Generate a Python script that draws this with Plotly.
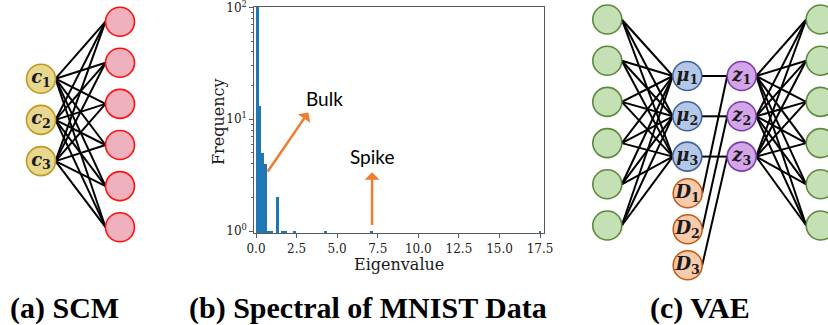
import math
import plotly.graph_objects as go

# ---------------- Histogram data (panel b) ----------------
BIN_W = 0.176                      # eigenvalue bin width
bin_index = [0, 1, 2, 3, 4, 5, 7, 9, 10, 13, 24, 40, 99]
bin_count = [100, 13, 5, 4, 1, 1, 2, 1, 1, 1, 1, 1, 1]
x_tick_vals = [0, 2.5, 5, 7.5, 10, 12.5, 15, 17.5]
x_tick_text = ["0.0", "2.5", "5.0", "7.5", "10.0", "12.5", "15.0", "17.5"]
y_tick_vals = [1, 10, 100]
y_tick_text = ["10<sup>0</sup>", "10<sup>1</sup>", "10<sup>2</sup>"]
y_minor_vals = [2, 3, 4, 5, 6, 7, 8, 9, 20, 30, 40, 50, 60, 70, 80, 90]

# ---------------- Diagram content ----------------
scm_cause = ["c", "c", "c"]
scm_obs_count = 6
vae_in_count = 6
vae_mu = ["μ", "μ", "μ"]
vae_d = ["D", "D", "D"]
vae_z = ["z", "z", "z"]
vae_out_count = 6
captions = ["(a) SCM", "(b) Spectral of MNIST Data", "(c) VAE"]

W, H = 828, 325
R = 14.5          # node radius (px)
NODE = 29         # marker diameter

def column(x, top, step, n):
    return [x] * n, [top + i * step for i in range(n)]

def lbl(letters):
    return ["<b><i>%s</i><sub>%d</sub></b>" % (s, i + 1) for i, s in enumerate(letters)]

# layout of columns
ca_x, ca_y = column(41, 78.7, 41.2, len(scm_cause))
ob_x, ob_y = column(120, 21.7, 41.1, scm_obs_count)
in_x, in_y = column(607.3, 19.5, 41.2, vae_in_count)
mu_x, mu_y = column(687.3, 76, 40.3, len(vae_mu))
d_x, d_y = column(687.7, 193.3, 36, len(vae_d))
z_x, z_y = column(741.7, 76, 40.3, len(vae_z))
out_x, out_y = column(820.7, 19.5, 41.2, vae_out_count)

ex, ey = [], []
def full(ax_, ay_, bx_, by_):
    for i in range(len(ax_)):
        for j in range(len(bx_)):
            ex.extend([ax_[i] + R, bx_[j] - R, None])
            ey.extend([ay_[i], by_[j], None])

full(ca_x, ca_y, ob_x, ob_y)
full(in_x, in_y, mu_x, mu_y)
full(z_x, z_y, out_x, out_y)
for i in range(len(vae_mu)):
    ex.extend([mu_x[i] + R, z_x[i] - R, None]); ey.extend([mu_y[i], z_y[i], None])
    ex.extend([d_x[i] + R, z_x[i] - R, None]); ey.extend([d_y[i], z_y[i], None])

fig = go.Figure()

# histogram
fig.add_trace(go.Bar(
    x=[(k + 0.5) * BIN_W for k in bin_index], y=bin_count, width=BIN_W,
    marker=dict(color="#1f77b4", line=dict(width=0)),
    xaxis="x", yaxis="y", showlegend=False))

# diagram edges
fig.add_trace(go.Scatter(x=ex, y=ey, mode="lines",
                         line=dict(color="black", width=2),
                         xaxis="x2", yaxis="y2", showlegend=False, hoverinfo="skip"))

def nodes(xs, ys, fill, edge, text=None):
    fig.add_trace(go.Scatter(
        x=xs, y=ys, mode="markers+text" if text else "markers",
        text=text, textposition="middle center",
        textfont=dict(family="DejaVu Serif", size=18, color="#1a1a1a"),
        marker=dict(size=NODE, color=fill, line=dict(color=edge, width=1.6)),
        xaxis="x2", yaxis="y2", showlegend=False, hoverinfo="skip"))

nodes(ca_x, ca_y, "#E8D88F", "#BF9A1F", lbl(scm_cause))
nodes(ob_x, ob_y, "#EFB1BD", "#FF1010")
nodes(in_x, in_y, "#C6E0B5", "#5B8A3C")
nodes(mu_x, mu_y, "#B4C7E7", "#3F64A0", lbl(vae_mu))
nodes(d_x, d_y, "#F8CBAD", "#C55A11", lbl(vae_d))
nodes(z_x, z_y, "#D4A5E8", "#7A3EA8", lbl(vae_z))
nodes(out_x, out_y, "#C6E0B5", "#5B8A3C")

axcol = "#5a5a5a"
serif = "DejaVu Serif, serif"
fig.update_layout(
    template="none",
    width=W, height=H, margin=dict(l=0, r=0, t=0, b=0, pad=0, autoexpand=False),
    paper_bgcolor="white", plot_bgcolor="rgba(0,0,0,0)",
    bargap=0,
    xaxis=dict(domain=[254.3 / W, 544.3 / W], range=[-0.105, 17.76], automargin=False,
               showline=True, mirror=True, linecolor=axcol, linewidth=1,
               ticks="outside", ticklen=4, tickcolor=axcol, ticklabeloverflow="allow",
               tickmode="array", tickvals=x_tick_vals, ticktext=x_tick_text,
               tickfont=dict(family=serif, size=12, color="#222"),
               showgrid=False, zeroline=False),
    yaxis=dict(type="log", domain=[1 - 233.3 / H, 1 - 7 / H], range=[-0.02, 2.003],
               automargin=False, ticklabeloverflow="allow",
               showline=True, mirror=True, linecolor=axcol, linewidth=1,
               ticks="outside", ticklen=4, tickcolor=axcol,
               tickmode="array", tickvals=y_tick_vals, ticktext=y_tick_text,
               tickfont=dict(family=serif, size=12, color="#222"),
               minor=dict(ticks="outside", ticklen=2, tickcolor=axcol,
                          tickmode="array", tickvals=y_minor_vals),
               showgrid=False, zeroline=False),
    xaxis2=dict(domain=[0, 1], range=[0, W], visible=False, fixedrange=True, automargin=False),
    yaxis2=dict(domain=[0, 1], range=[H, 0], visible=False, fixedrange=True, automargin=False),
)

ann = []
# axis titles
ann.append(dict(text="Eigenvalue", x=399, y=264, xref="x2", yref="y2", showarrow=False,
                font=dict(family=serif, size=16, color="#1a1a1a")))
ann.append(dict(text="Frequency", x=218, y=122, xref="x2", yref="y2", showarrow=False,
                textangle=-90, font=dict(family=serif, size=16, color="#1a1a1a")))
# Bulk / Spike
ann.append(dict(text="Bulk", x=324, y=98, xref="x2", yref="y2", showarrow=False,
                font=dict(family="Lato", size=19, color="black")))
ann.append(dict(text="Spike", x=372, y=156, xref="x2", yref="y2", showarrow=False,
                font=dict(family="Lato", size=19, color="black")))
ann.append(dict(x=3.22, y=math.log10(11.5), ax=0.66, ay=math.log10(3.3),
                xref="x", yref="y", axref="x", ayref="y", text="", showarrow=True,
                arrowhead=1, arrowsize=1, arrowwidth=2.5, arrowcolor="#ED7D31"))
ann.append(dict(x=7.15, y=math.log10(3.36), ax=7.15, ay=math.log10(1.1),
                xref="x", yref="y", axref="x", ayref="y", text="", showarrow=True,
                arrowhead=1, arrowsize=1, arrowwidth=2.5, arrowcolor="#ED7D31"))
# captions
for txt, cx in zip(captions, [64, 367.5, 700]):
    ann.append(dict(text="<b>%s</b>" % txt, x=cx, y=308, xref="x2", yref="y2",
                    showarrow=False,
                    font=dict(family="Liberation Serif, Times New Roman, serif",
                              size=30, color="black")))
fig.update_layout(annotations=ann)

fig.write_html("out.html", config={"displayModeBar": False},
               post_script="document.body.style.margin='0';document.body.style.overflow='hidden';")
